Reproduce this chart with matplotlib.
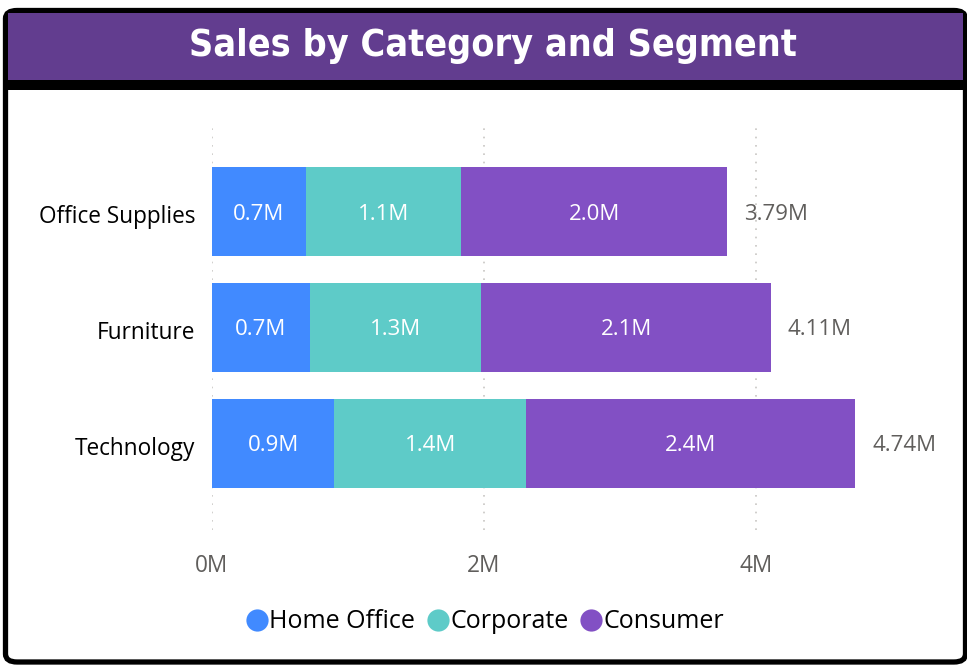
import matplotlib.pyplot as plt
import matplotlib.transforms as mtransforms
from matplotlib.patches import FancyBboxPatch, Rectangle
from matplotlib.lines import Line2D

categories = ["Technology", "Furniture", "Office Supplies"]
segments = ["Home Office", "Corporate", "Consumer"]
home_office = [0.90, 0.72, 0.69]
corporate = [1.41, 1.26, 1.14]
consumer = [2.42, 2.13, 1.96]
totals = [4.74, 4.11, 3.79]
xticks = [0, 2, 4]
xtick_labels = ["0M", "2M", "4M"]

colors = ["#418AFF", "#5ECBC8", "#8250C4"]
font = "Open Sans"

W, H = 967, 666
fig = plt.figure(figsize=(W / 100, H / 100), dpi=100)
fig.patch.set_facecolor("white")

# frame + title bar
frame = FancyBboxPatch((5.5 / W, (H - 662) / H), 960 / W, 651.5 / H,
                       boxstyle="round,pad=0,rounding_size=0.012",
                       transform=fig.transFigure, facecolor="white",
                       edgecolor="black", linewidth=3.8, zorder=0)
fig.patches.append(frame)
fig.patches.append(Rectangle((7 / W, (H - 90) / H), 957 / W, 10 / H,
                             transform=fig.transFigure, facecolor="black",
                             edgecolor="none", zorder=1))
fig.patches.append(Rectangle((8 / W, (H - 80) / H), 955 / W, 67 / H,
                             transform=fig.transFigure, facecolor="#623D8F",
                             edgecolor="none", zorder=1))
fig.text(493 / W, (H - 46) / H, "Sales by Category and Segment",
         ha="center", va="center", color="white", fontsize=27,
         fontweight="bold", family="DejaVu Sans", fontstretch="condensed")

ax = fig.add_axes([212 / W, (H - 530) / H, 707 / W, 402 / H])
ax.set_zorder(5)
ax.patch.set_alpha(0)
down = mtransforms.ScaledTranslation(0, -0.025, fig.dpi_scale_trans)
y = list(range(len(categories)))
left = [0.0] * len(categories)
for seg, vals, c in zip(segments, [home_office, corporate, consumer], colors):
    bars = ax.barh(y, vals, left=left, height=0.767, color=c, label=seg, zorder=2)
    for b, v in zip(bars, vals):
        ax.text(b.get_x() + b.get_width() / 2, b.get_y() + b.get_height() / 2,
                f"{v:.1f}M", ha="center", va="center", color="white",
                fontsize=16, family=font, zorder=3,
                transform=ax.transData + down)
    left = [l + v for l, v in zip(left, vals)]

for yi, t in zip(y, totals):
    ax.text(t + 0.12, yi, f"{t:.2f}M", ha="left", va="center",
            color="#605E5C", fontsize=16, family=font,
            transform=ax.transData + down)

ax.set_xlim(0, 5.2)
ax.set_ylim(-0.746, 2.72)
ax.set_yticks(y)
ax.set_yticklabels(categories, fontsize=16.3, family=font, color="black")
ax.set_xticks(xticks)
ax.set_xticklabels(xtick_labels, fontsize=16.3, family=font, color="#605E5C")
ax.tick_params(length=0, axis="y", pad=12)
ax.tick_params(length=0, axis="x", pad=17)
for lbl in ax.get_yticklabels():
    lbl.set_transform(lbl.get_transform() + down)
for s in ax.spines.values():
    s.set_visible(False)
ax.grid(axis="x", linestyle=(0, (1, 4)), color="#C8C6C4", linewidth=1.2, zorder=1)
ax.set_axisbelow(True)

handles = [Line2D([], [], marker="o", linestyle="none", markersize=16,
                  markerfacecolor=c, markeredgecolor="none") for c in colors]
leg = fig.legend(handles, segments, loc="center", bbox_to_anchor=(484 / W, (H - 622) / H),
                 ncol=3, frameon=False, handletextpad=0.0, columnspacing=0.4,
                 handlelength=1.0, prop={"family": font, "size": 18})
leg.set_zorder(6)

fig.savefig("out.png", dpi=100)
